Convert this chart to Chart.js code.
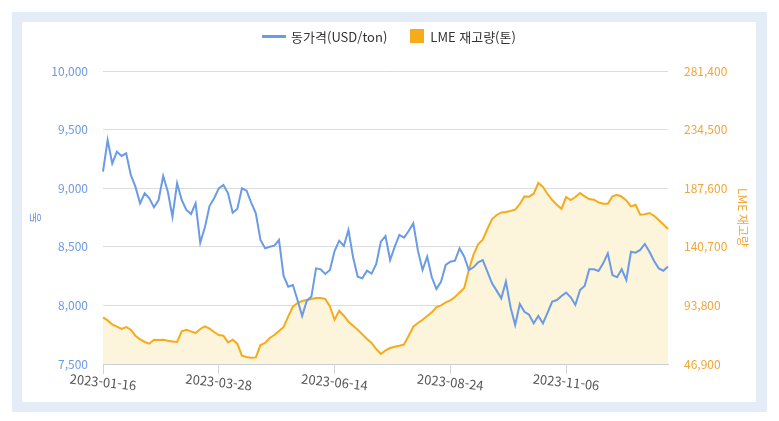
<!DOCTYPE html>
<html lang="ko">
<head>
<meta charset="utf-8">
<title>동가격 / LME 재고량</title>
<script src="https://cdn.jsdelivr.net/npm/chart.js@4.4.0/dist/chart.umd.min.js"></script>
<style>
  html, body { margin: 0; padding: 0; background: #fff; }
  body { font-family: 'Noto Sans CJK KR', 'Noto Sans', sans-serif; }
  #frame { position: absolute; left: 12px; top: 12px; width: 755px; height: 400px; background: #e4ecf7; }
  #panel { position: absolute; left: 10px; top: 10px; width: 734px; height: 380px; background: #fff; }
  #legend { position: absolute; left: 0; top: 5px; width: 734px; height: 18px;
            display: flex; justify-content: center; align-items: center;
            font-size: 13px; color: #333; }
  #legend .item { display: flex; align-items: center; }
  #legend .line { width: 24px; height: 3px; margin-right: 5px; }
  #legend .box { width: 14px; height: 14px; margin-right: 6px; }
  #legend .gap { width: 23px; }
  canvas { position: absolute; left: 0; top: 0; }
</style>
</head>
<body>
<div id="frame">
  <div id="panel">
    <canvas id="copper-chart" width="734" height="380"></canvas>
    <div id="legend"></div>
  </div>
</div>
<script>
// tick labels shown on the x axis (every 25th point)
const tickDates = ['2023-01-16', '2023-03-28', '2023-06-14', '2023-08-24', '2023-11-06'];
const TICK_EVERY = 25;

// copper price, USD/ton
const priceUsd = [
  9141, 9411, 9212, 9312, 9275, 9298, 9113, 9013, 8871, 8956,
  8914, 8837, 8899, 9104, 8970, 8757, 9042, 8899, 8814, 8780,
  8871, 8535, 8666, 8848, 8914, 8999, 9027, 8956, 8791, 8823,
  8999, 8979, 8877, 8786, 8558, 8487, 8501, 8510, 8558, 8251,
  8160, 8174, 8046, 7910, 8040, 8075, 8316, 8308, 8268, 8302,
  8464, 8552, 8507, 8643, 8410, 8245, 8231, 8296, 8271, 8353,
  8544, 8592, 8387, 8501, 8601, 8578, 8635, 8700, 8467, 8302,
  8416, 8240, 8140, 8203, 8345, 8373, 8382, 8487, 8416, 8302,
  8325, 8368, 8387, 8288, 8188, 8126, 8060, 8203, 7984, 7833,
  8012, 7946, 7920, 7847, 7910, 7847, 7938, 8032, 8046, 8080,
  8109, 8069, 8004, 8131, 8166, 8308, 8308, 8294, 8359, 8444,
  8259, 8240, 8308, 8217, 8458, 8450, 8473, 8524, 8458, 8379,
  8316, 8296, 8331
];

// LME stock, tons
const lmeStock = [
  84190, 81790, 78590, 76750, 74910, 76510, 74350, 69550, 66590, 64510,
  63150, 66350, 66110, 66350, 65550, 64990, 64510, 72990, 74350, 72990,
  71710, 74910, 76990, 75150, 72510, 70110, 69550, 64190, 66350, 63150,
  53540, 52500, 51940, 52180, 62080, 63710, 67710, 70110, 73310, 76510,
  85000, 92760, 95720, 97320, 98120, 98920, 99720, 99720, 98920, 93000,
  82350, 89560, 85560, 80750, 77550, 74350, 70590, 66910, 63710, 58900,
  54900, 57800, 59700, 60740, 61550, 62590, 69550, 76750, 79710, 82350,
  85290, 88200, 92520, 93800, 96200, 97800, 100520, 104200, 107720, 122370,
  134370, 142620, 146380, 154940, 162940, 166150, 168230, 168550, 169350, 170390,
  174950, 181030, 180800, 183190, 191750, 188550, 182950, 178150, 174390, 171190,
  180550, 178150, 180550, 183750, 181030, 178950, 178390, 176230, 175190, 175190,
  181030, 182390, 180790, 177830, 173030, 174390, 166390, 166710, 167750, 165500,
  162140, 158620, 154940
];

const seriesNames = ['동가격(USD/ton)', 'LME 재고량(톤)'];
const BLUE = '#6a9be4';
const ORANGE = '#f6ab1a';

// category labels: dates spread between the tick dates
function buildDates(n) {
  const anchors = tickDates.map(d => new Date(d + 'T00:00:00Z').getTime());
  const out = [];
  for (let i = 0; i < n; i++) {
    let seg = Math.min(Math.floor(i / TICK_EVERY), anchors.length - 2);
    const a = anchors[seg], b = anchors[seg + 1];
    const t = a + (b - a) * (i - seg * TICK_EVERY) / TICK_EVERY;
    out.push(new Date(Math.round(t / 86400000) * 86400000).toISOString().slice(0, 10));
  }
  return out;
}
const dates = buildDates(priceUsd.length);

// legend (html)
const legendEl = document.getElementById('legend');
legendEl.innerHTML =
  `<span class="item"><span class="line" style="background:${BLUE}"></span>${seriesNames[0]}</span>` +
  `<span class="gap"></span>` +
  `<span class="item"><span class="box" style="background:${ORANGE}"></span>${seriesNames[1]}</span>`;

// slanted, centred date labels under the x ticks
const dateTickLabels = {
  id: 'dateTickLabels',
  afterDraw(chart) {
    const xs = chart.scales.x;
    const ctx = chart.ctx;
    ctx.save();
    ctx.font = "13px 'Noto Sans CJK KR', sans-serif";
    ctx.fillStyle = '#555';
    ctx.textAlign = 'center';
    ctx.textBaseline = 'middle';
    xs.ticks.forEach((t, k) => {
      ctx.save();
      ctx.translate(xs.getPixelForTick(k), xs.top + 18);
      ctx.rotate(6 * Math.PI / 180);
      ctx.fillText(dates[t.value], 0, 0);
      ctx.restore();
    });
    ctx.restore();
  }
};

Chart.defaults.font.family = "'Noto Sans CJK KR', 'Noto Sans', sans-serif";
Chart.defaults.font.size = 12;

new Chart(document.getElementById('copper-chart'), {
  type: 'line',
  data: {
    labels: dates,
    datasets: [{
      label: seriesNames[0],
      data: priceUsd,
      yAxisID: 'y',
      borderColor: BLUE,
      borderWidth: 2,
      pointRadius: 0,
      tension: 0,
      fill: false
    }, {
      label: seriesNames[1],
      data: lmeStock,
      yAxisID: 'y1',
      borderColor: ORANGE,
      backgroundColor: '#fdf4dc',
      borderWidth: 2,
      pointRadius: 0,
      tension: 0,
      fill: 'start'
    }]
  },
  options: {
    responsive: false,
    animation: false,
    layout: { padding: { top: 49, left: 0, right: 0, bottom: 0 } },
    plugins: {
      legend: { display: false },
      tooltip: { enabled: false }
    },
    scales: {
      x: {
        afterBuildTicks: axis => {
          axis.ticks = axis.ticks.filter(t => t.value % TICK_EVERY === 0);
        },
        afterFit: scale => { scale.height = 38; },
        ticks: { display: false, autoSkip: false },
        grid: { drawOnChartArea: false, drawTicks: true, tickLength: 10, color: '#d3d3d3' },
        border: { display: true, color: '#c8d0db' }
      },
      y: {
        position: 'left',
        min: 7500,
        max: 10000,
        afterFit: scale => { scale.width = 81; },
        ticks: { stepSize: 500, padding: 15, color: '#6f9ae0', font: { size: 12 } },
        grid: { color: '#dcdcdc', drawTicks: false },
        border: { display: false },
        title: { display: true, text: '동', color: '#6f9ae0', font: { size: 12 }, padding: { top: 6, bottom: 0 } }
      },
      y1: {
        position: 'right',
        min: 46900,
        max: 281400,
        afterFit: scale => { scale.width = 88; },
        ticks: { stepSize: 46900, padding: 16, color: '#f0a738', font: { size: 12 } },
        grid: { drawOnChartArea: false, drawTicks: false },
        border: { display: false },
        title: { display: true, text: 'LME 재고량', color: '#f0a738', font: { size: 12 }, padding: { top: 6, bottom: 0 } }
      }
    }
  },
  plugins: [dateTickLabels]
});
</script>
</body>
</html>
